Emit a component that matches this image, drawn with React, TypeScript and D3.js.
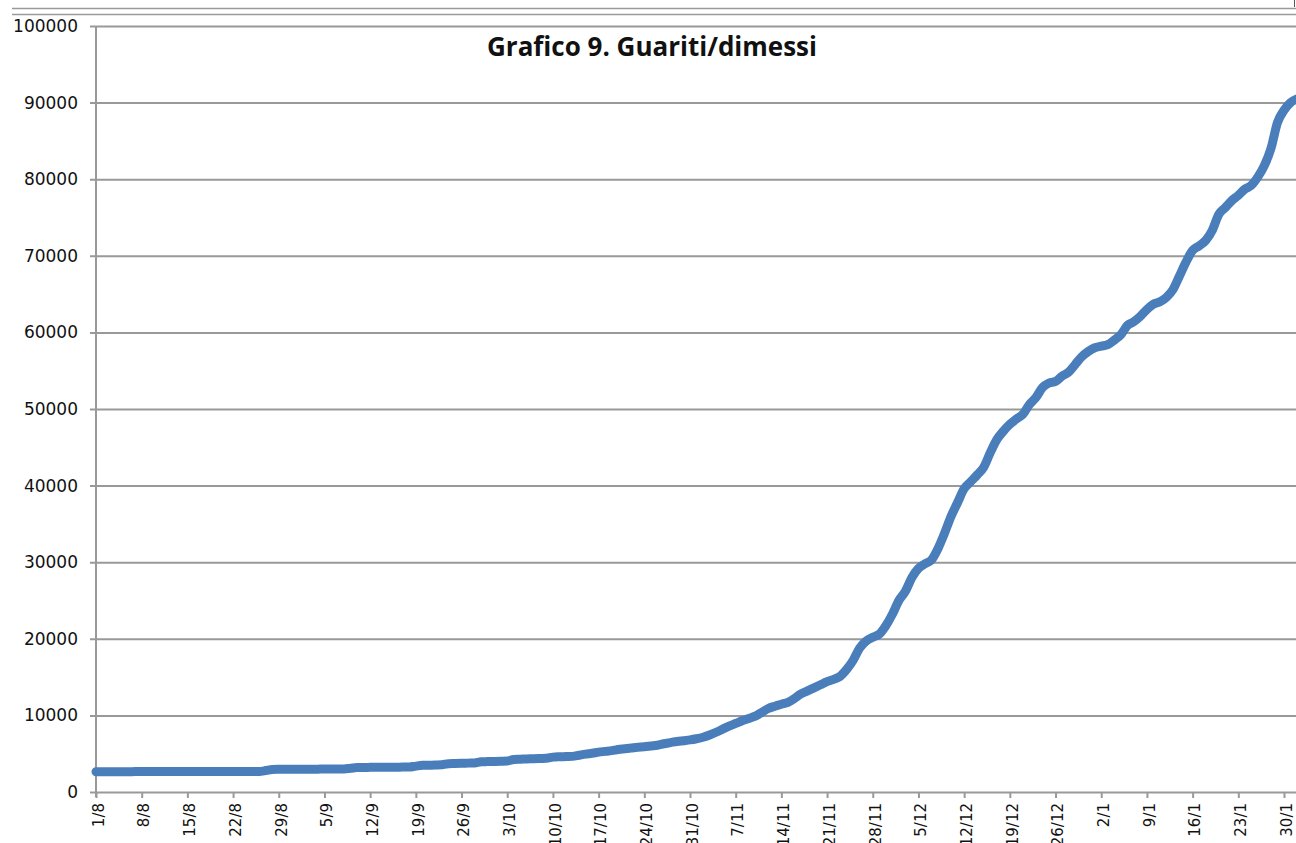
import React, { useEffect, useRef } from "react";
import * as d3 from "d3";

// first day of the series (1/8/2020), one value per day
const startDate = new Date(2020, 7, 1);
const lastTickDate = new Date(2021, 0, 30);

const guariti = [
  2650, 2650, 2650, 2655, 2655, 2655, 2660, 2660, 2660, 2660,
  2665, 2665, 2665, 2670, 2670, 2670, 2670, 2675, 2675, 2675,
  2680, 2680, 2680, 2685, 2685, 2690, 2800, 2950, 2960, 2965,
  2970, 2975, 2975, 2980, 2985, 2990, 2990, 2995, 3000, 3100,
  3200, 3210, 3215, 3220, 3230, 3235, 3240, 3250, 3260, 3380,
  3480, 3500, 3520, 3550, 3700, 3720, 3740, 3770, 3800, 3950,
  3970, 3990, 4020, 4050, 4250, 4280, 4310, 4340, 4370, 4400,
  4550, 4600, 4620, 4650, 4800, 4950, 5050, 5200, 5300, 5400,
  5550, 5650, 5750, 5850, 5900, 6000, 6100, 6300, 6450, 6600,
  6700, 6800, 6950, 7150, 7450, 7800, 8200, 8600, 8950, 9300,
  9600, 9900, 10400, 10900, 11200, 11450, 11700, 12200, 12800, 13200,
  13600, 14000, 14400, 14700, 15100, 16000, 17200, 18800, 19700, 20200,
  20600, 21700, 23200, 25000, 26200, 28000, 29200, 29800, 30300, 31800,
  33800, 36000, 37800, 39600, 40500, 41400, 42400, 44300, 46000, 47100,
  48000, 48700, 49300, 50600, 51500, 52800, 53400, 53600, 54300, 54800,
  55800, 56800, 57500, 58000, 58200, 58400, 59000, 59700, 60900, 61400,
  62100, 63000, 63700, 64000, 64600, 65600, 67400, 69200, 70700, 71300,
  72000, 73300, 75400, 76300, 77200, 77900, 78700, 79200, 80300, 81800,
  84000, 87400, 89000, 90000, 90500,
];

const yTicks = [0, 10000, 20000, 30000, 40000, 50000, 60000, 70000, 80000, 90000, 100000];

const title = "Grafico 9. Guariti/dimessi";

const App = () => {
  const svgRef = useRef<SVGSVGElement>(null);

  useEffect(() => {
    const width = 1296, height = 843;
    const left = 96, right = 1296, top = 26, bottom = 792;
    const x0 = 96, xTick = 1284;

    const svg = d3.select(svgRef.current)
      .attr("width", width)
      .attr("height", height);
    svg.selectAll("*").remove();

    const dates = guariti.map((_, i) => d3.timeDay.offset(startDate, i));

    const x = d3.scaleTime()
      .domain([startDate, lastTickDate])
      .range([x0, xTick]);

    const y = d3.scaleLinear()
      .domain([0, 100000])
      .range([bottom, top]);

    // lines at the very top (border of the sheet)
    svg.append("line")
      .attr("x1", 12).attr("x2", width).attr("y1", 8.5).attr("y2", 8.5)
      .attr("stroke", "#9a9a9a").attr("stroke-width", 1.5);
    svg.append("line")
      .attr("x1", 12).attr("x2", width).attr("y1", 14.5).attr("y2", 14.5)
      .attr("stroke", "#9a9a9a").attr("stroke-width", 1.5);
    svg.append("line")
      .attr("x1", 1294.5).attr("x2", 1294.5).attr("y1", 0).attr("y2", 7)
      .attr("stroke", "#555").attr("stroke-width", 1);

    // gridlines + y axis
    const yAxis = d3.axisLeft(y)
      .tickValues(yTicks)
      .tickSize(-(right - left))
      .tickPadding(18)
      .tickFormat(d => String(d));

    const gy = svg.append("g")
      .attr("transform", `translate(${left},0)`)
      .call(yAxis);
    gy.select(".domain").remove();
    gy.selectAll(".tick line")
      .attr("x1", -6)
      .attr("stroke", "#999")
      .attr("stroke-width", 2);
    gy.selectAll(".tick text")
      .attr("font-family", "DejaVu Sans")
      .attr("font-size", 17)
      .attr("fill", "#111");

    svg.append("line")
      .attr("x1", left).attr("x2", left).attr("y1", top).attr("y2", bottom + 5)
      .attr("stroke", "#999").attr("stroke-width", 2);

    // x axis, a label every 7 days
    const xAxis = d3.axisBottom(x)
      .tickValues(d3.timeDay.range(startDate, d3.timeDay.offset(lastTickDate, 1), 7))
      .tickSize(6)
      .tickFormat(d3.timeFormat("%-d/%-m") as any);

    const gx = svg.append("g")
      .attr("transform", `translate(0,${bottom})`)
      .call(xAxis);
    gx.select(".domain").remove();
    gx.selectAll(".tick line")
      .attr("stroke", "#999")
      .attr("stroke-width", 2);
    gx.selectAll(".tick text")
      .attr("font-family", "DejaVu Sans")
      .attr("font-size", 15)
      .attr("fill", "#111")
      .attr("text-anchor", "end")
      .attr("dy", "0.35em")
      .attr("transform", "rotate(-90) translate(-11,2)")
      .attr("x", 0)
      .attr("y", 0);

    // series
    const line = d3.line<number>()
      .x((_, i) => x(dates[i]))
      .y(d => y(d))
      .curve(d3.curveMonotoneX);

    svg.append("path")
      .datum(guariti)
      .attr("fill", "none")
      .attr("stroke", "#4a7ebb")
      .attr("stroke-width", 9)
      .attr("stroke-linejoin", "round")
      .attr("stroke-linecap", "round")
      .attr("d", line);

    svg.append("text")
      .attr("x", 652)
      .attr("y", 56)
      .attr("text-anchor", "middle")
      .attr("font-family", "Open Sans")
      .attr("font-weight", "bold")
      .attr("font-size", 26)
      .attr("fill", "#111")
      .text(title);
  }, []);

  return (
    <svg ref={svgRef} style={{ position: "absolute", left: 0, top: 0, background: "#fff" }}></svg>
  );
};

export default App;
